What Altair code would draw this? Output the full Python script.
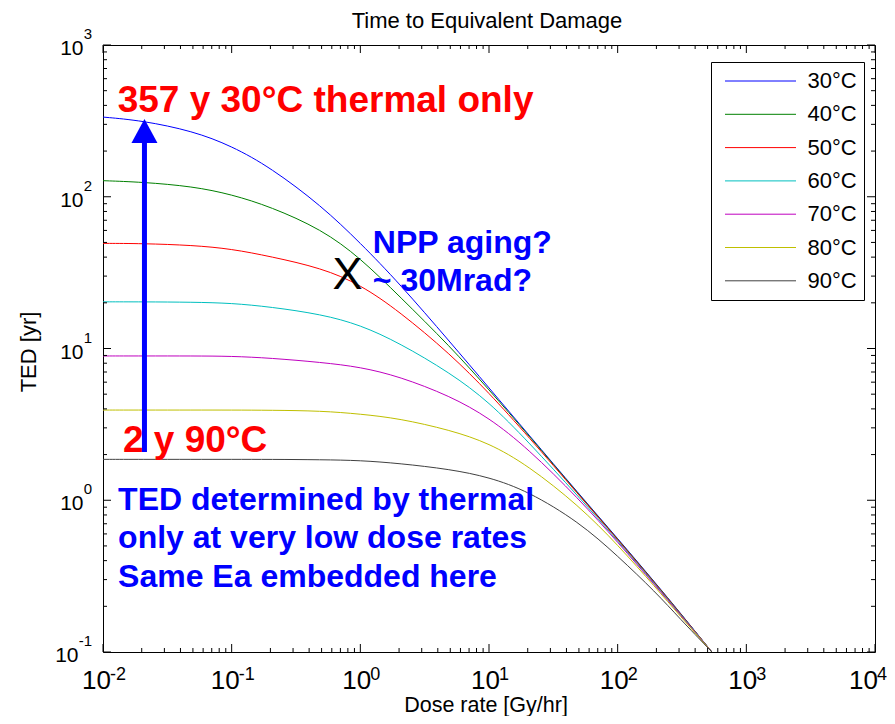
import altair as alt
import pandas as pd

W, H = 772, 607
FONT = "Liberation Sans"

# ---------------- data ----------------
dose = [0.01, 0.02, 0.05, 0.1, 0.2, 0.5, 1, 2, 5, 10, 20, 50, 100, 200, 300, 540]
ted_30 = [335, 318, 271, 216, 156, 87, 49.6, 27, 11, 5.5, 2.75, 1.1, 0.56, 0.28, 0.185, 0.1]
ted_40 = [127.6, 125, 117, 103.5, 86, 61, 39.5, 22.2, 10.3, 5.35, 2.72, 1.09, 0.555, 0.278, 0.184, 0.1]
ted_50 = [49.3, 49.2, 47.9, 45.3, 40.4, 33.9, 26.4, 17.6, 9.2, 5.1, 2.66, 1.08, 0.55, 0.276, 0.183, 0.1]
ted_60 = [20.3, 20.3, 20.2, 19.9, 18.8, 16.8, 14.3, 10.9, 6.9, 4.45, 2.45, 1.05, 0.54, 0.272, 0.181, 0.1]
ted_70 = [8.93, 8.93, 8.93, 8.9, 8.65, 8.1, 7.55, 6.55, 4.86, 3.5, 2.2, 1.02, 0.53, 0.268, 0.179, 0.1]
ted_80 = [3.93, 3.93, 3.93, 3.93, 3.92, 3.88, 3.70, 3.46, 2.9, 2.38, 1.7, 0.92, 0.51, 0.262, 0.176, 0.1]
ted_90 = [1.86, 1.86, 1.86, 1.86, 1.86, 1.85, 1.83, 1.75, 1.60, 1.42, 1.15, 0.72, 0.43, 0.245, 0.168, 0.1]

series_labels = ["30°C", "40°C", "50°C", "60°C", "70°C", "80°C", "90°C"]
series_colors = ["#0000FF", "#008000", "#FF0000", "#00BFBF", "#BF00BF", "#BFBF00", "#404040"]
series_values = [ted_30, ted_40, ted_50, ted_60, ted_70, ted_80, ted_90]

x_major = [0.01, 0.1, 1, 10, 100, 1000, 10000]
x_exp = ["-2", "-1", "0", "1", "2", "3", "4"]
x_minor = [m * 10.0 ** e for e in range(-2, 4) for m in range(2, 10)]
y_major = [0.1, 1, 10, 100, 1000]
y_exp = ["-1", "0", "1", "2", "3"]
y_minor = [m * 10.0 ** e for e in range(-1, 3) for m in range(2, 10)]

chart_title = ["Time to Equivalent Damage"]
x_title = ["Dose rate [Gy/hr]"]
y_title = ["TED [yr]"]

red_text = ["357 y 30°C thermal only", "2 y 90°C"]
red_x = [0.0130, 0.01429]
red_y = [361, 2.08]

blue_text = ["NPP aging?\n~ 30Mrad?",
             "TED determined by thermal\nonly at very low dose rates\nSame Ea embedded here"]
blue_x = [1.25, 0.0131]
blue_y = [42.6, 0.863]

x_mark_text = ["X"]
x_mark_x = [0.794]
x_mark_y = [24.7]

arrow_x = [0.021]
arrow_from = [2.08]
arrow_shaft_top = [240]
arrow_tip = [325]

# ---------------- build ----------------
rows = []
for lab, vals in zip(series_labels, series_values):
    for d, v in zip(dose, vals):
        rows.append({"dose": d, "ted": v, "series": lab})
df = pd.DataFrame(rows)

xs = alt.Scale(type="log", domain=[0.01, 10000], nice=False)
ys = alt.Scale(type="log", domain=[0.1, 1000], nice=False)


def X(f):
    return alt.X(f, type="quantitative", scale=xs, axis=None)


def Y(f):
    return alt.Y(f, type="quantitative", scale=ys, axis=None)


lines = alt.Chart(df).mark_line(strokeWidth=1, clip=True, interpolate="basis").encode(
    x=X("dose"),
    y=Y("ted"),
    color=alt.Color(
        "series:N",
        scale=alt.Scale(domain=series_labels, range=series_colors),
        legend=alt.Legend(
            orient="none", legendX=608, legendY=17, title=None,
            symbolType="stroke", symbolSize=5041, symbolStrokeWidth=1,
            clipHeight=24, labelFont=FONT, labelFontSize=22, labelColor="black",
            labelOffset=11, symbolOffset=6.5, padding=7, rowPadding=9.3,
            strokeColor="black", fillColor="white", cornerRadius=0,
        ),
    ),
    order=alt.Order("dose:Q"),
)

layers = [lines]

MAJ, MIN = 8, 4
for vals, ln in [(x_major, MAJ), (x_minor, MIN)]:
    d = pd.DataFrame({"v": vals})
    layers.append(alt.Chart(d).mark_rule(color="black", strokeWidth=1).encode(
        x=X("v"), y=alt.value(H), y2=alt.value(H - ln)))
    layers.append(alt.Chart(d).mark_rule(color="black", strokeWidth=1).encode(
        x=X("v"), y=alt.value(0), y2=alt.value(ln)))
for vals, ln in [(y_major, MAJ), (y_minor, MIN)]:
    d = pd.DataFrame({"v": vals})
    layers.append(alt.Chart(d).mark_rule(color="black", strokeWidth=1).encode(
        y=Y("v"), x=alt.value(0), x2=alt.value(ln)))
    layers.append(alt.Chart(d).mark_rule(color="black", strokeWidth=1).encode(
        y=Y("v"), x=alt.value(W), x2=alt.value(W - ln)))

# x tick labels
xl = pd.DataFrame({"v": x_major, "e": x_exp, "neg": [e.startswith("-") for e in x_exp]})
for cond, bdx, edx in [("datum.neg", -21, 7),
                       ("!datum.neg && datum.v < 5000", -18, 10),
                       ("datum.v > 5000", -26, 2)]:
    base = alt.Chart(xl).transform_filter(cond)
    layers.append(base.mark_text(align="left", baseline="alphabetic", dx=bdx, font=FONT,
                                 fontSize=26, color="black").encode(
        x=X("v"), y=alt.value(H + 37), text=alt.value("10")))
    layers.append(base.mark_text(align="left", baseline="alphabetic", dx=edx, font=FONT,
                                 fontSize=18, color="black").encode(
        x=X("v"), y=alt.value(H + 28), text="e:N"))

# y tick labels
yl = pd.DataFrame({"v": y_major, "e": y_exp, "neg": [e.startswith("-") for e in y_exp]})
layers.append(alt.Chart(yl).mark_text(align="right", baseline="alphabetic", dy=-6, font=FONT,
                                      fontSize=15, color="black").encode(
    y=Y("v"), x=alt.value(-11), text="e:N"))
for cond, bx in [("datum.neg", -24.5), ("!datum.neg", -19.5)]:
    layers.append(alt.Chart(yl).transform_filter(cond).mark_text(
        align="right", baseline="alphabetic", dy=10, font=FONT, fontSize=21, color="black").encode(
        y=Y("v"), x=alt.value(bx), text=alt.value("10")))

# titles
layers.append(alt.Chart(pd.DataFrame({"t": chart_title})).mark_text(
    align="center", baseline="alphabetic", font=FONT, fontSize=22, color="black").encode(
    x=alt.value(W / 2 - 2), y=alt.value(-17), text="t:N"))
layers.append(alt.Chart(pd.DataFrame({"t": x_title})).mark_text(
    align="center", baseline="alphabetic", font=FONT, fontSize=21.5, color="black").encode(
    x=alt.value(W / 2 - 3), y=alt.value(H + 60), text="t:N"))
layers.append(alt.Chart(pd.DataFrame({"t": y_title})).mark_text(
    align="center", baseline="alphabetic", angle=270, font=FONT, fontSize=22, color="black").encode(
    x=alt.value(-67), y=alt.value(307), text="t:N"))

# annotations
layers.append(alt.Chart(pd.DataFrame({"t": red_text, "x": red_x, "y": red_y})).mark_text(
    align="left", baseline="alphabetic", font=FONT, fontSize=37, fontWeight="bold",
    color="#FF0000").encode(x=X("x"), y=Y("y"), text="t:N"))
layers.append(alt.Chart(pd.DataFrame({"t": blue_text, "x": blue_x, "y": blue_y})).mark_text(
    align="left", baseline="alphabetic", font=FONT, fontSize=32, fontWeight="bold",
    lineBreak="\n", lineHeight=38.5, color="#0000FF").encode(x=X("x"), y=Y("y"), text="t:N"))
layers.append(alt.Chart(pd.DataFrame({"t": x_mark_text, "x": x_mark_x, "y": x_mark_y})).mark_text(
    align="center", baseline="alphabetic", font=FONT, fontSize=45, color="black").encode(
    x=X("x"), y=Y("y"), text="t:N"))

arrow_df = pd.DataFrame({"x": arrow_x, "y0": arrow_from, "y1": arrow_shaft_top, "tip": arrow_tip})
layers.append(alt.Chart(arrow_df).mark_rule(color="#0000FF", strokeWidth=5).encode(
    x=X("x"), y=Y("y0"), y2=alt.Y2("y1")))
layers.append(alt.Chart(arrow_df).mark_point(
    shape="M0,0L1,1.846L-1,1.846Z", size=676, filled=True, color="#0000FF", opacity=1,
    strokeWidth=0).encode(x=X("x"), y=Y("tip")))

chart = alt.layer(*layers).properties(
    width=W, height=H,
    padding={"left": 95, "top": 37, "right": 12, "bottom": 64},
    autosize=alt.AutoSizeParams(type="none"),
    background="white",
).configure_view(stroke="black", strokeWidth=1)

chart.save("out.html", embed_options={"renderer": "svg", "actions": False})
